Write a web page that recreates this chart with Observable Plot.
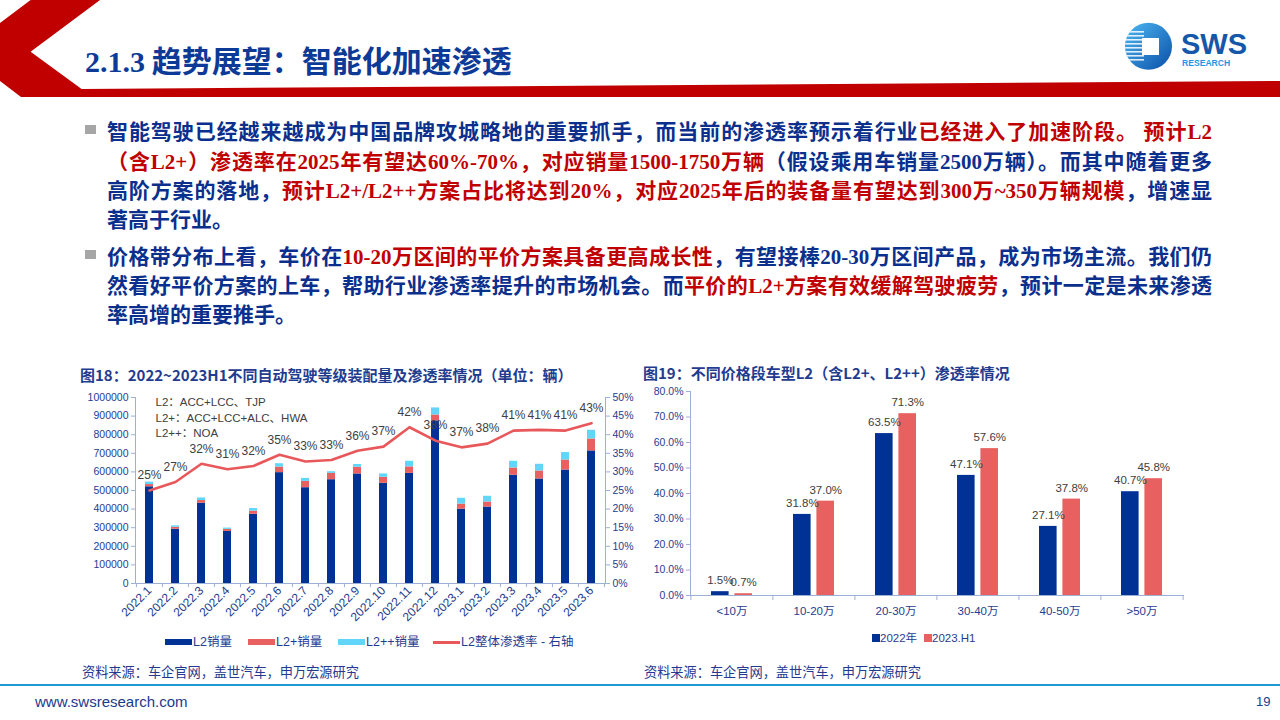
<!DOCTYPE html>
<html><head><meta charset="utf-8">
<script src="https://cdn.jsdelivr.net/npm/d3@7"></script>
<script src="https://cdn.jsdelivr.net/npm/@observablehq/plot@0.6"></script>
<style>
body{margin:0;width:1280px;height:720px;position:relative;overflow:hidden;background:#fff;font-family:"Noto Sans CJK SC","Noto Sans",sans-serif;}
.abs{position:absolute;white-space:nowrap;}
.line{position:absolute;left:107px;width:1105px;height:30px;line-height:30px;font-size:21px;font-weight:700;white-space:nowrap;text-align:justify;text-align-last:justify;}
.line.last{text-align:left;text-align-last:left;}
.b{color:#0B2F8C;}
.r{color:#C00000;}
.n{font-family:"Liberation Serif","Times New Roman",serif;font-weight:700;font-style:normal;}
.bullet{position:absolute;left:85px;width:11px;height:9px;background:#A6A6A6;}
.ctitle{position:absolute;font-size:15px;font-weight:700;color:#1F3C8F;white-space:nowrap;line-height:20px;}
.src{position:absolute;font-size:13.2px;color:#24398F;white-space:nowrap;line-height:18px;}
.leg{position:absolute;font-size:12.5px;color:#1F3C8F;white-space:nowrap;line-height:16px;font-family:"Liberation Sans","Noto Sans CJK SC",sans-serif;}
.sw{position:absolute;}
</style></head><body>

<svg class="abs" width="1280" height="100" style="left:0;top:0">
  <polygon points="30.6,0 100,0 30.6,51.7 81.6,89 1280,81 1280,97 21,97 0,81 0,23" fill="#C00000"/>
  <defs>
    <linearGradient id="lg" x1="0" y1="0" x2="1" y2="1">
      <stop offset="0" stop-color="#4DB8F2"/><stop offset="1" stop-color="#0A4FA8"/>
    </linearGradient>
    <clipPath id="cc"><circle cx="1148.5" cy="46.3" r="23.5"/></clipPath>
  </defs>
  <circle cx="1148.5" cy="46.3" r="23.5" fill="url(#lg)"/>
  <g clip-path="url(#cc)" fill="#fff" opacity="0.85">
    <rect x="1124" y="31" width="20" height="1.6"/><rect x="1124" y="35" width="20" height="1.6"/>
    <rect x="1124" y="39" width="20" height="1.6"/><rect x="1124" y="43" width="20" height="1.6"/>
    <rect x="1124" y="47" width="20" height="1.6"/><rect x="1124" y="51" width="20" height="1.6"/>
    <rect x="1124" y="55" width="20" height="1.6"/><rect x="1124" y="59" width="20" height="1.6"/>
  </g>
  <rect x="1142" y="38" width="17" height="17" fill="#fff"/>
  <text x="1181" y="53.5" font-family="Liberation Sans,Arial,sans-serif" font-weight="700" font-size="29" fill="#1557A8">SWS</text>
  <text x="1182" y="65.5" font-family="Liberation Sans,Arial,sans-serif" font-weight="700" font-size="8.6" fill="#1E96E6">RESEARCH</text>
</svg>

<div class="abs" style="left:85px;top:40px;font-size:30px;font-weight:700;color:#0D3A96;line-height:38px;"><span class="n" style="font-weight:700">2.1.3</span> 趋势展望：智能化加速渗透</div>

<div class="bullet" style="top:125px"></div>
<div class="line" style="top:115px"><span class="b">智能驾驶已经越来越成为中国品牌攻城略地的重要抓手，而当前的渗透率预示着行业</span><span class="r">已经进入了加速阶段。</span> <span class="r">预计<i class="n">L2</i></span></div>
<div class="line" style="top:145px"><span class="r">（含<i class="n">L2+</i>）渗透率在<i class="n">2025</i>年有望达<i class="n">60%-70%</i>，对应销量<i class="n">1500-1750</i>万辆</span><span class="b">（假设乘用车销量<i class="n">2500</i>万辆）。而其中随着更多</span></div>
<div class="line" style="top:174px"><span class="b">高阶方案的落地，</span><span class="r">预计<i class="n">L2+/L2++</i>方案占比将达到<i class="n">20%</i>，对应<i class="n">2025</i>年后的装备量有望达到<i class="n">300</i>万<i class="n">~350</i>万辆规模</span><span class="b">，增速显</span></div>
<div class="line last" style="top:203px"><span class="b">著高于行业。</span></div>

<div class="bullet" style="top:250px"></div>
<div class="line" style="top:240px"><span class="b">价格带分布上看，车价在</span><span class="r"><i class="n">10-20</i>万区间的平价方案具备更高成长性</span><span class="b">，有望接棒<i class="n">20-30</i>万区间产品，成为市场主流。我们仍</span></div>
<div class="line" style="top:269px"><span class="b">然看好平价方案的上车，帮助行业渗透率提升的市场机会。而</span><span class="r">平价的<i class="n">L2+</i>方案有效缓解驾驶疲劳</span><span class="b">，预计一定是未来渗透</span></div>
<div class="line last" style="top:298px"><span class="b">率高增的重要推手。</span></div>

<div class="ctitle" style="left:80px;top:365px">图18：2022~2023H1不同自动驾驶等级装配量及渗透率情况（单位：辆）</div>
<div class="ctitle" style="left:643px;top:363px">图19：不同价格段车型L2（含L2+、L2++）渗透率情况</div>

<div id="left" class="abs" style="left:75px;top:385px;width:565px;"></div>
<div id="right" class="abs" style="left:640px;top:379px;width:563px;"></div>

<div id="legL"></div>
<div id="legR"></div>

<div class="src" style="left:82px;top:663px">资料来源：车企官网，盖世汽车，申万宏源研究</div>
<div class="src" style="left:644px;top:663px">资料来源：车企官网，盖世汽车，申万宏源研究</div>
<div class="abs" style="left:0;top:683.5px;width:1280px;height:2.5px;background:#1E9BD7"></div>
<div class="abs" style="left:35px;top:692px;font-family:'Liberation Sans',Arial,sans-serif;font-size:15px;color:#1B3A8C;line-height:20px">www.swsresearch.com</div>
<div class="abs" style="left:1256px;top:693px;font-family:'Liberation Sans',Arial,sans-serif;font-size:13px;color:#1B3A8C;line-height:18px">19</div>

<script>
// ---------- Data: figure 18 ----------
const months = ["2022.1","2022.2","2022.3","2022.4","2022.5","2022.6","2022.7","2022.8","2022.9","2022.10","2022.11","2022.12","2023.1","2023.2","2023.3","2023.4","2023.5","2023.6"];
const l2Sales = [520000,292000,432000,280000,372000,596000,515000,558000,589000,539000,592000,874000,399000,411000,582000,562000,610000,713000];
const l2PlusSales = [12000,10000,14000,11000,17000,30000,34000,34000,36000,32000,35000,32000,28000,27000,39000,43000,54000,64000];
const l2PlusPlusSales = [13000,8000,14000,7000,14000,18000,16000,9000,15000,18000,30000,38000,31000,31000,36000,36000,40000,47000];
const penetration = [25.0,27.3,32.2,30.7,31.6,34.6,32.8,33.2,35.7,36.8,42.0,38.4,36.6,37.6,41.1,41.3,41.1,43.1];
const seriesNames = ["L2销量","L2+销量","L2++销量"];
const lineName = "L2整体渗透率 - 右轴";
const annotation = "L2：ACC+LCC、TJP\nL2+：ACC+LCC+ALC、HWA\nL2++：NOA";

// ---------- Data: figure 19 ----------
const priceBands = ["<10万","10-20万","20-30万","30-40万","40-50万",">50万"];
const pen2022 = [1.5,31.8,63.5,47.1,27.1,40.7];
const pen2023H1 = [0.7,37.0,71.3,57.6,37.8,45.8];
const yearNames = ["2022年","2023.H1"];

// ---------- Styles ----------
const navy = "#003296", redBar = "#E8605F", cyan = "#62D6FA", lineRed = "#E8585B";
const axisColor = "#9DB0D6", labelColor = "#1F3C8F", annoColor = "#404040";
const font = "'Liberation Sans', Arial, 'Noto Sans CJK SC', sans-serif";

// ---------- Figure 18 ----------
const stackRows = months.flatMap((m, i) => [
  {month: m, series: seriesNames[0], value: l2Sales[i]},
  {month: m, series: seriesNames[1], value: l2PlusSales[i]},
  {month: m, series: seriesNames[2], value: l2PlusPlusSales[i]}
]);
const rateRows = months.map((m, i) => ({month: m, rate: penetration[i]}));
const RATE_TO_UNITS = 20000; // right axis 50% ↔ left axis 1,000,000
const W1 = 565, H1 = 243, ML1 = 60, MR1 = 35, MT1 = 12, MB1 = 45;
const step1 = (W1 - ML1 - MR1) / months.length;
const yTicks1 = d3.range(0, 1000001, 100000);

const left = Plot.plot({
  width: W1, height: H1, marginLeft: ML1, marginRight: MR1, marginTop: MT1, marginBottom: MB1,
  style: {background: "transparent", fontFamily: font, fontSize: "10.5px", overflow: "visible"},
  x: {domain: months, paddingInner: 0.686, paddingOuter: 0.343, label: null},
  y: {domain: [0, 1000000], label: null},
  color: {domain: seriesNames, range: [navy, redBar, cyan]},
  marks: [
    Plot.barY(stackRows, {x: "month", y: "value", fill: "series"}),
    Plot.line(rateRows, {x: "month", y: d => d.rate * RATE_TO_UNITS, stroke: lineRed, strokeWidth: 2.6}),
    Plot.text(rateRows, {x: "month", y: d => d.rate * RATE_TO_UNITS, text: d => Math.round(d.rate) + "%", dy: -15, fill: annoColor, fontSize: 12}),
    Plot.frame({anchor: "left", stroke: axisColor}),
    Plot.frame({anchor: "right", stroke: axisColor}),
    Plot.frame({anchor: "bottom", stroke: axisColor}),
    Plot.axisY({anchor: "left", ticks: yTicks1, tickFormat: d3.format("d"), tickSize: 4, tickPadding: 3, stroke: axisColor, fill: labelColor, label: null}),
    Plot.axisY({anchor: "right", ticks: yTicks1, tickFormat: d => (d / RATE_TO_UNITS) + "%", tickSize: 4, tickPadding: 3, stroke: axisColor, fill: labelColor, label: null}),
    Plot.axisX({tickRotate: -45, tickSize: 0, tickPadding: 5, fill: labelColor, fontSize: 12, label: null}),
    Plot.ruleX(months, {x: d => d, dx: -step1 / 2, y1: 0, y2: -22000, stroke: axisColor}),
    Plot.ruleX(months.slice(-1), {x: d => d, dx: step1 / 2, y1: 0, y2: -22000, stroke: axisColor}),
    Plot.text([annotation], {text: d => d, frameAnchor: "top-left", dx: 20, dy: -2, lineHeight: 1.33, textAnchor: "start", fill: annoColor, fontSize: 11.5})
  ]
});
document.getElementById("left").append(left);

// ---------- Figure 19 ----------
const rows2022 = priceBands.map((b, i) => ({band: b, v: pen2022[i]}));
const rows2023 = priceBands.map((b, i) => ({band: b, v: pen2023H1[i]}));
const W2 = 563, H2 = 244, ML2 = 50, MR2 = 20, MT2 = 12, MB2 = 28;
const step2 = (W2 - ML2 - MR2) / priceBands.length;
const inset2 = 23.4, off2 = 11.7;

const right = Plot.plot({
  width: W2, height: H2, marginLeft: ML2, marginRight: MR2, marginTop: MT2, marginBottom: MB2,
  style: {background: "transparent", fontFamily: font, fontSize: "10.5px", overflow: "visible"},
  x: {domain: priceBands, paddingInner: 0.494, paddingOuter: 0.247, label: null},
  y: {domain: [0, 80], label: null},
  marks: [
    Plot.barY(rows2022, {x: "band", y: "v", fill: navy, insetRight: inset2}),
    Plot.barY(rows2023, {x: "band", y: "v", fill: redBar, insetLeft: inset2}),
    Plot.text(rows2022, {x: "band", y: "v", text: d => d.v.toFixed(1) + "%", dx: -off2, dy: -11, fill: annoColor, fontSize: 11.5}),
    Plot.text(rows2023, {x: "band", y: "v", text: d => d.v.toFixed(1) + "%", dx: off2, dy: -11, fill: annoColor, fontSize: 11.5}),
    Plot.frame({anchor: "left", stroke: axisColor}),
    Plot.frame({anchor: "bottom", stroke: axisColor}),
    Plot.axisY({anchor: "left", ticks: d3.range(0, 81, 10), tickFormat: d => d.toFixed(1) + "%", tickSize: 4, tickPadding: 3, stroke: axisColor, fill: labelColor, label: null}),
    Plot.axisX({tickSize: 0, tickPadding: 11, fill: labelColor, fontSize: 11.5, label: null}),
    Plot.ruleX(priceBands, {x: d => d, dx: -step2 / 2, y1: 0, y2: -2, stroke: axisColor}),
    Plot.ruleX(priceBands.slice(-1), {x: d => d, dx: step2 / 2, y1: 0, y2: -2, stroke: axisColor})
  ]
});
document.getElementById("right").append(right);

// ---------- Legends (HTML) ----------
const legL = document.getElementById("legL");
const legLItems = [
  {name: seriesNames[0], color: navy, type: "bar", x: 165},
  {name: seriesNames[1], color: redBar, type: "bar", x: 248},
  {name: seriesNames[2], color: cyan, type: "bar", x: 338},
  {name: lineName, color: lineRed, type: "line", x: 433}
];
for (const it of legLItems) {
  const s = document.createElement("div");
  s.className = "sw";
  s.style.left = it.x + "px";
  s.style.width = "27px";
  if (it.type === "bar") { s.style.top = "639px"; s.style.height = "6px"; }
  else { s.style.top = "640.5px"; s.style.height = "3px"; }
  s.style.background = it.color;
  legL.append(s);
  const t = document.createElement("div");
  t.className = "leg";
  t.style.left = (it.x + 28) + "px";
  t.style.top = "634px";
  t.textContent = it.name;
  legL.append(t);
}
const legR = document.getElementById("legR");
[{name: yearNames[0], color: navy, x: 872}, {name: yearNames[1], color: redBar, x: 924}].forEach(it => {
  const s = document.createElement("div");
  s.className = "sw";
  s.style.cssText += `left:${it.x}px;top:634px;width:7.5px;height:7.5px;background:${it.color}`;
  legR.append(s);
  const t = document.createElement("div");
  t.className = "leg";
  t.style.left = (it.x + 8) + "px";
  t.style.top = "630px";
  t.style.fontSize = "11.5px";
  t.textContent = it.name;
  legR.append(t);
});
</script>
</body></html>
